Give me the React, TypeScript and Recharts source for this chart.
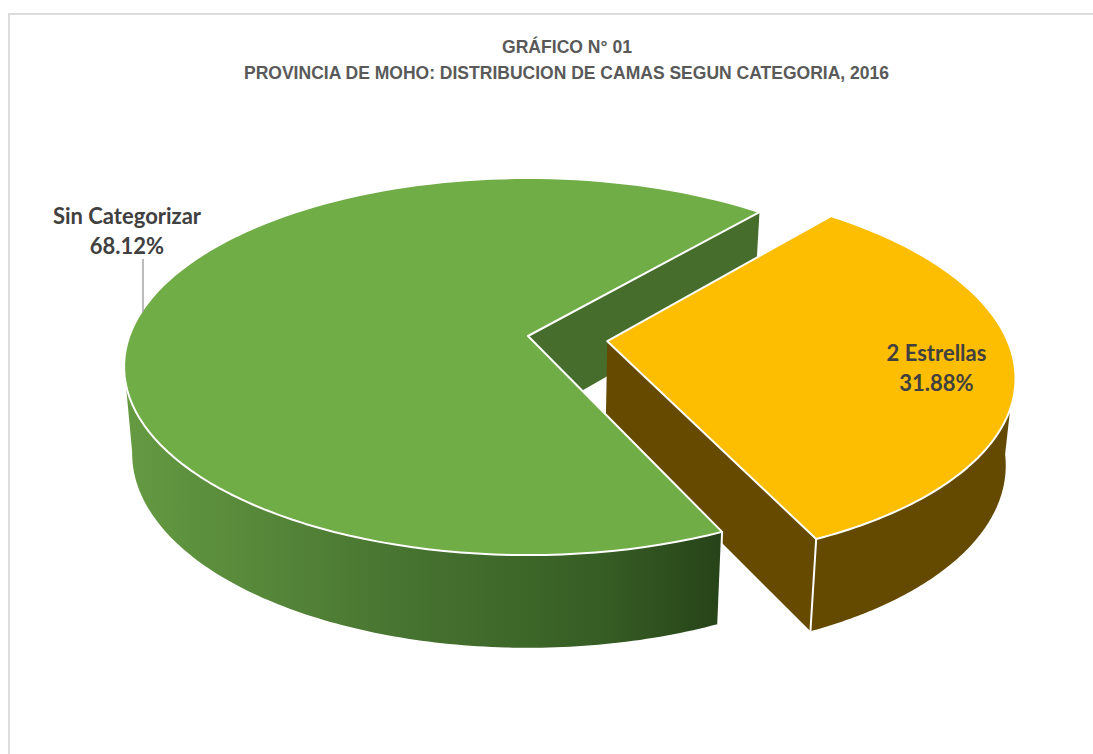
import { PieChart, Pie } from "recharts";

const categories = ["2 Estrellas", "Sin Categorizar"];
const shares = [31.88, 68.12];
const explosion = [0.2, 0];
const topColors = ["#fdbd00", "#70ad47"];
const titleLines = ["GRÁFICO N° 01", "PROVINCIA DE MOHO: DISTRIBUCION DE CAMAS SEGUN CATEGORIA, 2016"];

const data = categories.map((name, i) => ({ name, value: shares[i], fill: topColors[i] }));

// fake 3d: the flat pie is pushed through a perspective, the library still gives the angles
const SQUASH = 0.4606;
const PERSP = 0.162;
const RAD = Math.PI / 180;

function Slice({ cx, cy, outerRadius, startAngle, endAngle, index, fill, layer }: any) {
  const R = outerRadius;
  const mid = ((startAngle + endAngle) / 2) * RAD;
  const ox = explosion[index] * Math.cos(mid);
  const oy = explosion[index] * Math.sin(mid);

  const top = (u: number, v: number) => {
    const w = 1 + PERSP * (v + oy);
    return [cx + (R * (u + ox)) / w, cy - (R * SQUASH * (v + oy)) / w, v + oy];
  };
  const low = (p: number[]) => [cx + (p[0] - cx) * 0.98, p[1] + 85.5 - 7.2 * p[2]];
  const rim = (a: number) => top(Math.cos(a * RAD), Math.sin(a * RAD));
  const arc = (a0: number, a1: number) => {
    const pts = [];
    for (let i = 0; i <= 120; i++) pts.push(rim(a0 + ((a1 - a0) * i) / 120));
    return pts;
  };
  const toPath = (pts: number[][]) => "M" + pts.map((p) => `${p[0]},${p[1]}`).join("L") + "Z";

  const apex = top(0, 0);
  const endPt = rim(endAngle);
  const reflex = startAngle - endAngle > 180;
  const edgeWall = toPath([apex, endPt, low(endPt), low(apex)]);

  if (layer === "back") {
    return reflex ? <path d={edgeWall} fill="#466d2c" /> : <g />;
  }

  // the wall only runs between the two silhouette points of the ellipse
  const frontArc = arc(Math.min(startAngle, -8), Math.max(endAngle, -171));
  const wall = toPath([...frontArc, ...frontArc.slice().reverse().map(low)]);
  const cornerAngle = reflex ? startAngle : endAngle;
  const corner = rim(cornerAngle);
  const cornerLow = low(corner);

  return (
    <g>
      {!reflex && <path d={edgeWall} fill="#654a00" />}
      <path d={wall} fill={reflex ? "url(#greenWall)" : "#644a00"} />
      <line x1={corner[0]} y1={corner[1]} x2={cornerLow[0]} y2={cornerLow[1]} stroke="#fff" strokeWidth={2} />
      <path
        d={toPath([apex, ...arc(startAngle, endAngle)])}
        fill={fill}
        stroke="#fff"
        strokeWidth={2}
        strokeLinejoin="round"
      />
    </g>
  );
}

function SliceLabel({ index, name, value }: any) {
  const style = { fontFamily: "Lato", fontWeight: 700, fontSize: 22, fill: "#404040" };
  const x = index === 0 ? 936.5 : 127;
  const y = index === 0 ? 361 : 224;
  return (
    <g>
      {index === 1 && <line x1={143} y1={259} x2={143} y2={312} stroke="#a6a6a6" strokeWidth={1.5} />}
      <text x={x} y={y} textAnchor="middle" style={style}>
        {name}
      </text>
      <text x={x} y={y + 29.5} textAnchor="middle" style={style}>
        {value.toFixed(2)}%
      </text>
    </g>
  );
}

export default function App() {
  const titleStyle = { fontFamily: "Liberation Sans", fontWeight: 700, fontSize: 18.5, fill: "#595959" };
  return (
    <div style={{ position: "absolute", left: 0, top: 0, width: 1093, height: 754, background: "#fff", overflow: "hidden" }}>
      <div
        style={{
          position: "absolute",
          left: 8,
          top: 13,
          width: 1085,
          height: 741,
          borderTop: "2px solid #dcdcdc",
          borderLeft: "2px solid #dcdcdc",
          boxSizing: "border-box",
        }}
      />
      <div style={{ position: "absolute", left: 0, top: 0 }}>
        <PieChart width={1093} height={754} margin={{ top: 0, right: 0, bottom: 0, left: 0 }}>
          <defs>
            <linearGradient id="greenWall" x1="0" y1="0" x2="1" y2="0">
              <stop offset="0" stopColor="#659a42" />
              <stop offset="0.45" stopColor="#487531" />
              <stop offset="0.8" stopColor="#365d24" />
              <stop offset="1" stopColor="#274319" />
            </linearGradient>
          </defs>
          <text x={567} y={53} textAnchor="middle" textLength={130} lengthAdjust="spacingAndGlyphs" style={titleStyle}>
            {titleLines[0]}
          </text>
          <text x={566.5} y={79} textAnchor="middle" textLength={645} lengthAdjust="spacingAndGlyphs" style={titleStyle}>
            {titleLines[1]}
          </text>
          <Pie
            data={data}
            dataKey="value"
            nameKey="name"
            cx={528}
            cy={336}
            outerRadius={398.6}
            startAngle={49.3}
            endAngle={-310.7}
            stroke="none"
            isAnimationActive={false}
            shape={(p: any) => <Slice {...p} layer="back" />}
          />
          <Pie
            data={data}
            dataKey="value"
            nameKey="name"
            cx={528}
            cy={336}
            outerRadius={398.6}
            startAngle={49.3}
            endAngle={-310.7}
            stroke="none"
            isAnimationActive={false}
            labelLine={false}
            label={(p: any) => <SliceLabel {...p} />}
            shape={(p: any) => <Slice {...p} layer="main" />}
          />
        </PieChart>
      </div>
    </div>
  );
}
